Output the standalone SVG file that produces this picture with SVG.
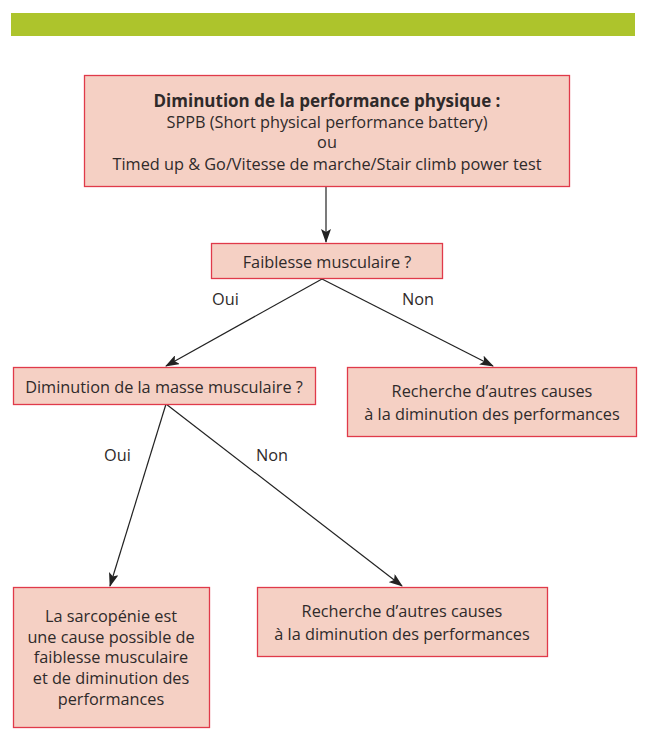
<svg xmlns="http://www.w3.org/2000/svg" width="648" height="753" viewBox="0 0 648 753">
<defs>
<style>
.box{fill:#f5d0c4;stroke:#e03a4a;stroke-width:1.3}
text{font-family:"Open Sans","Noto Sans",sans-serif;font-size:16.3px;fill:#2f2a2a;text-anchor:middle}
.b{font-weight:bold;font-size:17px}
.lbl{text-anchor:start}
.c{stroke:#222;stroke-width:1.2;fill:none;marker-end:url(#ah)}
</style>
<marker id="ah" viewBox="0 0 14 10" refX="13" refY="5" markerWidth="14" markerHeight="10" markerUnits="userSpaceOnUse" orient="auto">
<path d="M0,0 L14,5 L0,10 L3,5 Z" fill="#222"/>
</marker>
</defs>
<rect x="11" y="13" width="624" height="23" fill="#adc42c"/>
<g id="connectors">
<line class="c" x1="326" y1="187" x2="326" y2="242"/>
<line class="c" x1="322" y1="279" x2="166" y2="366"/>
<line class="c" x1="322" y1="279" x2="493" y2="366"/>
<line class="c" x1="166" y1="404" x2="110" y2="586"/>
<line class="c" x1="166" y1="404" x2="402" y2="586"/>
<text class="lbl" x="212" y="305">Oui</text>
<text class="lbl" x="402" y="305">Non</text>
<text class="lbl" x="104" y="461">Oui</text>
<text class="lbl" x="256" y="461">Non</text>
</g>
<g id="n1">
<rect class="box" x="84.5" y="75.5" width="485" height="111"/>
<text class="b" x="327" y="107">Diminution de la performance physique :</text>
<text x="327" y="128">SPPB (Short physical performance battery)</text>
<text x="327" y="148">ou</text>
<text x="327" y="170">Timed up &amp; Go/Vitesse de marche/Stair climb power test</text>
</g>
<g id="n2">
<rect class="box" x="211.5" y="243.5" width="231" height="35"/>
<text x="327" y="268">Faiblesse musculaire ?</text>
</g>
<g id="n3">
<rect class="box" x="13.5" y="367.5" width="302" height="37"/>
<text x="164" y="393">Diminution de la masse musculaire ?</text>
</g>
<g id="n4">
<rect class="box" x="347.5" y="367.5" width="289" height="69"/>
<text x="492" y="397">Recherche d’autres causes</text>
<text x="492" y="420">à la diminution des performances</text>
</g>
<g id="n5">
<rect class="box" x="13.5" y="587.5" width="196" height="140"/>
<text x="111" y="622">La sarcopénie est</text>
<text x="111" y="643">une cause possible de</text>
<text x="111" y="663">faiblesse musculaire</text>
<text x="111" y="684">et de diminution des</text>
<text x="111" y="705">performances</text>
</g>
<g id="n6">
<rect class="box" x="257.5" y="587.5" width="290" height="69"/>
<text x="402" y="617">Recherche d’autres causes</text>
<text x="402" y="640">à la diminution des performances</text>
</g>
</svg>
